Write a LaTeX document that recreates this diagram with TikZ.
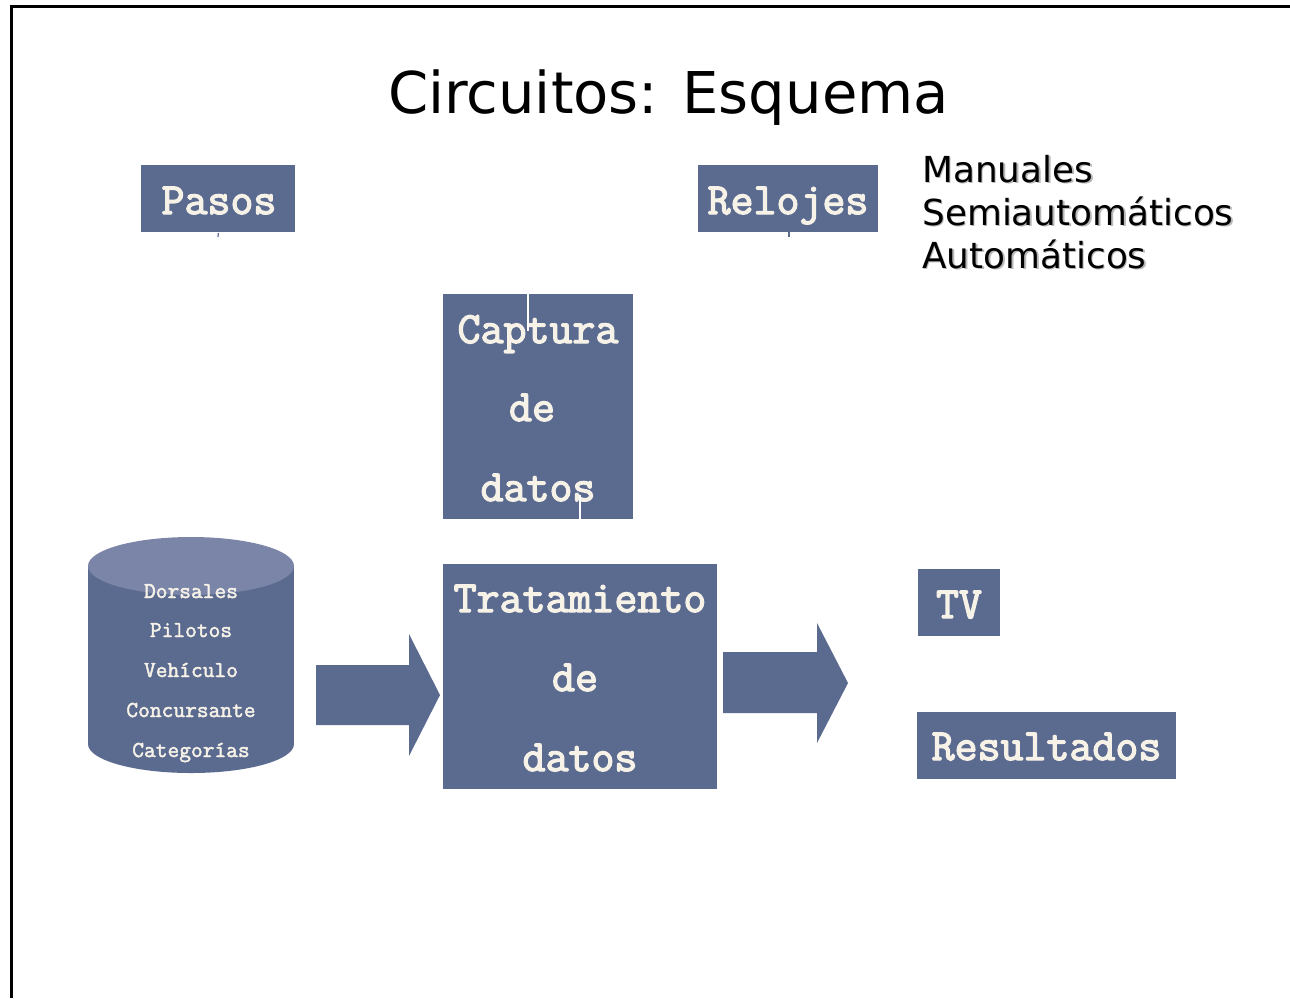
\documentclass[tikz,border=0pt]{standalone}
\usepackage{fontspec}
\newfontfamily\titlefont{DejaVu Sans}
\newfontfamily\boxmono{Latin Modern Mono}[FakeBold=3]
\newfontfamily\cylmono{Latin Modern Mono}[FakeBold=2]
\definecolor{boxblue}{HTML}{5B6A8F}
\definecolor{cyltop}{HTML}{7A85A8}
\definecolor{cream}{HTML}{F6F2E8}
\definecolor{shadowgray}{HTML}{B8B8B8}
\tikzset{
  box/.style={fill=boxblue, draw=none, inner sep=0pt, anchor=north west},
  boxtext/.style={text=cream, inner sep=0pt, anchor=base, font=\boxmono\fontsize{22.3pt}{26pt}\selectfont},
  cyltext/.style={text=cream, inner sep=0pt, anchor=base, font=\cylmono\fontsize{11.4pt}{13pt}\selectfont},
  listtext/.style={inner sep=0pt, anchor=base west, font=\titlefont\fontsize{17.9pt}{21pt}\selectfont},
  blockarrow/.style={fill=boxblue, draw=none},
  whiteline/.style={draw=white, line width=1.2pt},
}
\begin{document}
\begin{tikzpicture}[x=0.5pt,y=-0.5pt]
\useasboundingbox (0,0) rectangle (1290,998);
\fill[white] (0,0) rectangle (1290,998);
% frame
\draw[line width=1.5pt] (1290,6.5) -- (11.3,6.5) -- (11.3,998);

% title
\node[inner sep=0pt, anchor=base, font=\titlefont\fontsize{28.8pt}{34pt}\selectfont] (title) at (668.5,113) {Circuitos: Esquema};

% list with shadow
\foreach \t/\yy [count=\i] in {Manuales/182, Semiautom\'aticos/225, Autom\'aticos/268} {
  \node[listtext, text=shadowgray] (sh\i) at (923.5,\yy+1.5) {\t};
  \node[listtext] (li\i) at (922,\yy) {\t};
}

% boxes
\node[box, minimum width=77pt, minimum height=33.5pt] (pasos) at (141,165) {};
\node[boxtext] (pasost) at (219,214) {Pasos};
\node[box, minimum width=90pt, minimum height=33.5pt] (relojes) at (698,165) {};
\node[boxtext] (relojest) at (788,214) {Relojes};

\node[box, minimum width=95pt, minimum height=112.5pt] (captura) at (443,294) {};
\node[boxtext] (cap1) at (538,343) {Captura};
\node[boxtext] (cap2) at (532,421) {de};
\node[boxtext] (cap3) at (538,501) {datos};

\node[box, minimum width=137pt, minimum height=112.5pt] (trat) at (443,564) {};
\node[boxtext] (tr1) at (580,612) {Tratamiento};
\node[boxtext] (tr2) at (575,691) {de};
\node[boxtext] (tr3) at (580,771) {datos};

\node[box, minimum width=41pt, minimum height=33.5pt] (tv) at (918,569) {};
\node[boxtext] (tvt) at (959,618) {TV};
\node[box, minimum width=129.5pt, minimum height=33.5pt] (res) at (917,712) {};
\node[boxtext] (rest) at (1046.5,760) {Resultados};

% connector fragments
\coordinate (pasosend) at (218,237);
\draw[draw=boxblue, line width=0.6pt] (pasos.south) -- (pasosend);
\coordinate (relojesend) at (789,237);
\draw[draw=boxblue, line width=0.6pt] (789,232) -- (relojesend);
\coordinate (capin) at (528,331);
\draw[whiteline] (528,294) -- (capin);
\coordinate (capout) at (580,495);
\draw[whiteline] (capout) -- (580,519);

% cylinder
\fill[boxblue] (88,566) rectangle (294,744);
\fill[boxblue] (191,744) ellipse [x radius=51.5pt, y radius=14.5pt];
\fill[cyltop] (191,566) ellipse [x radius=51.5pt, y radius=14.5pt];
\node[cyltext] (c1) at (191,598) {Dorsales};
\node[cyltext] (c2) at (191,637) {Pilotos};
\node[cyltext] (c3) at (191,677) {Veh\'iculo};
\node[cyltext] (c4) at (191,717) {Concursante};
\node[cyltext] (c5) at (191,757) {Categor\'ias};

% block arrows
\fill[blockarrow] (316,665) -- (409,665) -- (409,634) -- (440,695) -- (409,756) -- (409,725) -- (316,725) -- cycle;
\fill[blockarrow] (723,652) -- (817,652) -- (817,623) -- (848,683) -- (817,743) -- (817,713) -- (723,713) -- cycle;
\end{tikzpicture}
\end{document}
